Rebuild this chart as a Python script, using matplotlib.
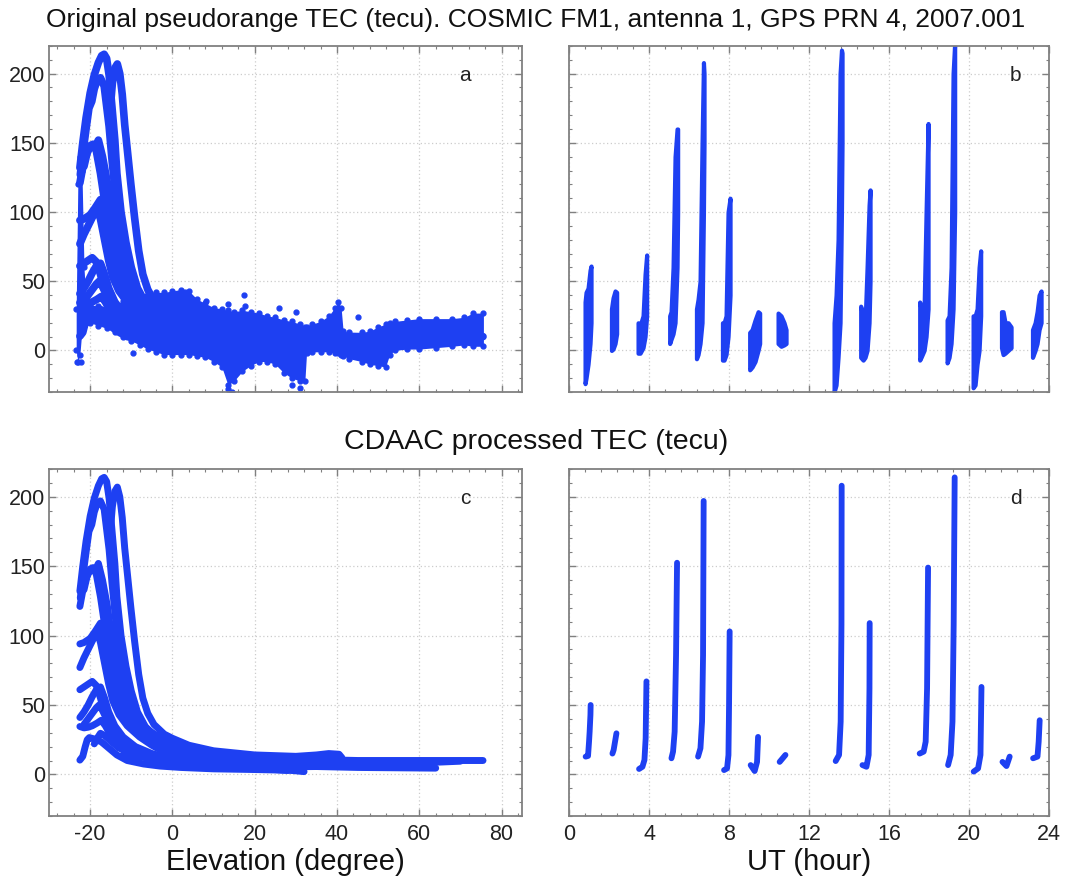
import matplotlib
matplotlib.use('Agg')
import matplotlib.pyplot as plt
from matplotlib.ticker import MultipleLocator

plt.rcParams['font.family'] = ['Liberation Sans', 'DejaVu Sans']
plt.rcParams['axes.unicode_minus'] = False

# ---------------- data ----------------
title_top = "Original pseudorange TEC (tecu). COSMIC FM1, antenna 1, GPS PRN 4, 2007.001"
title_mid = "CDAAC processed TEC (tecu)"
panel_letters = ['a', 'b', 'c', 'd']
elev_ticks = [-20, 0, 20, 40, 60, 80]
ut_ticks = [0, 4, 8, 12, 16, 20, 24]
tec_ticks = [0, 50, 100, 150, 200]

# Processed TEC vs elevation, one list of (elevation, TEC) per occultation pass
proc_elev_arcs = [
    # P01 peak 50
    [(-21.5, 36), (-20.5, 40), (-19.5, 44), (-18.5, 48), (-17.8, 50), (-17, 46), (-16, 40), (-14.5, 32),
     (-12.5, 25), (-10, 19), (-6, 15), (-2, 12), (3, 9), (10, 7), (20, 5.5), (25, 5)],
    # P02 peak 30
    [(-19, 22), (-18.3, 26), (-17.5, 29.6), (-16.5, 28), (-15, 24), (-13, 19), (-10, 15), (-6, 12),
     (-2, 10), (3, 8), (10, 7), (15, 7)],
    # P03 peak 67
    [(-22.5, 61), (-21.5, 63), (-20.5, 65), (-19.5, 67), (-18.5, 64), (-17.5, 55), (-16.5, 44), (-15, 34),
     (-13, 26), (-10, 19), (-6, 14), (-2, 11), (3, 8), (10, 6), (20, 4), (30, 3)],
    # P04 peak 152
    [(-22.5, 121), (-21.5, 137), (-20.5, 145), (-19.6, 147.5), (-18.8, 147), (-18.0, 152), (-17.0, 140),
     (-15.8, 121), (-14.7, 97), (-13.5, 78), (-12.3, 62), (-11, 50), (-9, 40), (-6, 32), (-3, 26), (0, 22),
     (5, 17), (12, 13), (20, 11), (30, 9), (40, 8)],
    # P05 peak 197
    [(-22.4, 127), (-21.8, 142), (-21.0, 160), (-20.3, 175), (-19.6, 180), (-19.0, 189), (-18.2, 196),
     (-17.5, 197), (-16.6, 191), (-15.4, 162), (-14.7, 138), (-13.5, 102), (-12.4, 78), (-11.2, 60),
     (-9.8, 47), (-8, 38), (-5, 30), (-2, 25), (2, 20), (8, 16), (15, 13), (25, 11), (35, 9.5), (45, 8.5),
     (55, 8)],
    # P06 peak 103
    [(-22.5, 77), (-21.5, 84), (-20.5, 90), (-19.5, 96), (-18.3, 103), (-17.5, 95), (-16.5, 80), (-15.5, 65),
     (-14.5, 53), (-13, 43), (-11, 35), (-8, 27), (-5, 21), (-2, 16), (2, 12), (8, 8), (15, 6), (25, 4),
     (32, 2)],
    # P07 peak 27
    [(-22.5, 10.3), (-21.8, 13), (-21.2, 20), (-20.7, 25), (-20.2, 26.5), (-19, 25.5), (-17.3, 23.5),
     (-15.5, 19), (-13.5, 14), (-11, 10), (-7, 7.5), (-3, 6), (2, 5), (10, 4), (20, 3.5), (28, 3)],
    # P08 peak 14
    [(-12, 14), (-9, 13), (-6, 12), (-2, 11), (3, 9), (8, 8), (12, 7)],
    # P09 peak 207
    [(-15.2, 172), (-14.6, 193), (-14.0, 204), (-13.4, 207), (-12.8, 200), (-12.2, 185), (-11.6, 163),
     (-10.9, 143), (-10.1, 120), (-9.2, 96), (-8.2, 72), (-7.2, 55), (-6.0, 44), (-4.5, 36), (-2.0, 29),
     (0, 26), (4, 21), (10, 17), (20, 14), (30, 13), (35, 14), (38, 15), (40.5, 14.5), (41.2, 12)],
    # P10 peak 109
    [(-22.5, 94), (-21.5, 95), (-20.0, 98), (-18.8, 103), (-17.5, 109), (-16.6, 97), (-15.8, 80),
     (-14.8, 66), (-13.5, 54), (-12, 45), (-9.5, 36), (-6.5, 28), (-3, 21), (0, 17), (5, 12), (12, 9),
     (20, 7), (30, 6), (45, 5), (64, 4.5)],
    # P11 peak 149
    [(-21.5, 133), (-20.8, 142), (-20.0, 148), (-19.3, 149), (-18.5, 144), (-17.5, 128), (-16.5, 108),
     (-15.5, 88), (-14.5, 72), (-13, 57), (-11, 44), (-8, 33), (-5, 26), (-2, 21), (2, 17), (8, 13),
     (15, 10), (25, 8), (35, 7), (50, 7), (70, 9.5)],
    # P12 peak 214
    [(-22.5, 132), (-21.8, 150), (-21.0, 168), (-20.0, 186), (-19.0, 199), (-18.0, 208), (-17.2, 213),
     (-16.6, 214), (-16.0, 211), (-15.4, 199), (-14.7, 176), (-14.0, 152), (-13.5, 128), (-12.5, 100),
     (-11.3, 78), (-10.0, 60), (-8.5, 45), (-6.5, 34), (-4.0, 27), (0, 22), (5, 18), (10, 15), (20, 13),
     (30, 11), (45, 10), (60, 10), (75.5, 10)],
    # P13 peak 63
    [(-22.5, 41), (-21.5, 45), (-20.5, 50), (-19.5, 56), (-18.5, 61), (-17.5, 63), (-16.5, 55), (-15.5, 45),
     (-14, 35), (-12, 27), (-9, 20), (-5, 15), (0, 11), (6, 8), (15, 5), (25, 3.5), (28, 3)],
    # P14 peak 13
    [(-8, 13), (-4, 12), (0, 10), (4, 8), (8, 7)],
    # P15 peak 39
    [(-22.5, 34.5), (-21.5, 33.5), (-20.5, 34), (-19.5, 35), (-18.3, 37), (-17.3, 39), (-16.3, 35),
     (-15, 28), (-13.5, 22), (-11.5, 17), (-9, 14), (-5, 11), (0, 9), (6, 7), (15, 6), (30, 5.5), (45, 6)],
]

# Processed TEC vs UT, one list of (UT hour, TEC) per pass
proc_ut_arcs = [
    [(0.83, 12.8), (0.95, 13.3), (1.0, 23.6), (1.03, 30.8), (1.07, 42.9), (1.08, 50)],
    [(2.17, 15), (2.23, 17.6), (2.3, 23.6), (2.37, 29.6)],
    [(3.5, 3.9), (3.67, 5.5), (3.77, 10.4), (3.83, 26), (3.87, 67)],
    [(5.12, 11.6), (5.2, 16.4), (5.28, 30.8), (5.35, 86), (5.4, 152.5)],
    [(6.45, 12.8), (6.57, 18.8), (6.65, 38), (6.7, 86), (6.73, 197)],
    [(7.75, 3.1), (7.9, 4.3), (7.97, 13.9), (8.0, 50), (8.03, 103)],
    [(9.08, 6.7), (9.28, 2.4), (9.4, 9), (9.45, 27)],
    [(10.53, 9), (10.82, 14)],
    [(13.33, 9.6), (13.5, 14), (13.58, 38), (13.62, 108), (13.63, 208)],
    [(14.67, 6.7), (14.87, 5.5), (14.98, 14), (15.02, 62), (15.03, 109)],
    [(17.53, 15), (17.73, 16.4), (17.83, 23.6), (17.9, 62), (17.95, 149)],
    [(18.95, 6.7), (19.08, 14), (19.17, 38), (19.23, 108), (19.28, 214)],
    [(20.23, 2), (20.45, 4.3), (20.57, 14), (20.62, 63)],
    [(21.67, 9), (21.87, 6), (22.03, 12.8)],
    [(23.2, 11.6), (23.42, 12.8), (23.48, 23.6), (23.53, 39)],
]

# Raw pseudorange TEC vs UT: per pass (UT hour, lowest TEC, highest TEC)
raw_ut_bands = [
    [(0.80, -24, 35), (0.85, -20, 42), (0.95, -10, 45), (1.05, 5, 58), (1.10, 20, 61)],
    [(2.12, 0, 30), (2.2, 1, 38), (2.3, 5, 43), (2.38, 12, 42)],
    [(3.45, -2, 20), (3.55, -2, 18), (3.7, 2, 25), (3.8, 10, 55), (3.88, 25, 69)],
    [(5.03, 5, 25), (5.1, 8, 28), (5.2, 12, 60), (5.3, 20, 140), (5.4, 60, 160), (5.43, 100, 160)],
    [(6.37, -6, 30), (6.45, -3, 37), (6.55, 5, 50), (6.65, 20, 150), (6.72, 100, 208), (6.75, 150, 200)],
    [(7.67, -7, 20), (7.75, -7, 20), (7.85, -3, 25), (7.95, 10, 100), (8.05, 40, 110)],
    [(9.03, -14, 13), (9.15, -12, 15), (9.3, -8, 22), (9.45, 0, 28), (9.53, 5, 27)],
    [(10.45, 5, 27), (10.6, 3, 25), (10.75, 4, 20), (10.85, 5, 15)],
    [(13.25, -30, 20), (13.35, -25, 40), (13.45, -5, 80), (13.55, 20, 200), (13.62, 100, 217), (13.65, 150, 215)],
    [(14.58, -5, 32), (14.7, -7, 25), (14.8, -5, 20), (14.9, 0, 60), (15.0, 20, 105), (15.05, 50, 116)],
    [(17.53, -7, 35), (17.6, -5, 30), (17.75, 0, 30), (17.85, 10, 100), (17.95, 30, 164)],
    [(18.9, -9, 22), (19.0, -5, 25), (19.1, 5, 60), (19.2, 30, 200), (19.28, 100, 222)],
    [(20.2, -27, 25), (20.3, -25, 25), (20.4, -10, 30), (20.5, 0, 60), (20.58, 25, 72)],
    [(21.62, 2, 28), (21.7, -3, 28), (21.8, -2, 20), (21.95, 0, 20), (22.1, 2, 17)],
    [(23.17, -5, 15), (23.3, 0, 20), (23.4, 5, 28), (23.5, 15, 40), (23.6, 20, 43)],
]

# Raw pseudorange TEC vs elevation: envelope of the dense point cloud
raw_cloud_elev = [-23.4, -23.0, -22.5, -22.0, -21.5, -21.0, -20.0, -18.0, -16.0, -14.0, -12.0, -10.0, -8.0,
                  -6.0, -4.0, -2.0, 0, 2, 4, 6, 8, 10, 12, 13.5, 15, 17, 19, 21, 23, 25, 27, 29, 31, 32.2,
                  32.6, 34, 36, 38, 39.5, 40.3, 41, 41.5, 43, 46, 48, 50, 51.8, 52.8, 54, 57, 60, 64, 68,
                  71, 73, 75.6]
raw_cloud_low = [0, -8, -3, 15, 18, 20, 20, 18, 16, 13, 10, 7, 4,
                 1, -1, -3, -3, -3, -3, -4, -5, -8, -12, -25, -22, -15, -11, -8, -8, -10, -16, -20, -22, -22,
                 -2, -1, -1, -1, -2, -2, -3, -4, -6, -8, -10, -11, -12, -3, 0, 1, 1, 2, 3,
                 4, 3, 3]
raw_cloud_high = [30, 120, 140, 130, 60, 34, 33, 32, 31, 33, 36, 38, 40,
                  42, 42, 42, 43, 44, 43, 37, 34, 31, 30, 29, 28, 29, 28, 27, 25, 24, 22, 21, 19, 17,
                  17, 19, 21, 25, 31, 35, 31, 14, 13, 13, 14, 17, 19, 20, 21, 22, 23, 23, 23,
                  24, 27, 27]
raw_outliers_elev = [-23.2, -22.3, -9.5, 8.1, 13.5, 17.3, 17.6, 26.0, 30.0, 13.5, 14.5, 29.0, 31.0, 3.0, 45.0]
raw_outliers_tec = [-8, -8, -2, 35.6, 33.7, 40, 32, 31, 28, -28, -30, -25, -27, 42, 24]

# ---------------- drawing ----------------
BLUE = '#1e40f2'
FRAME = '#808080'

fig = plt.figure(figsize=(10.92, 8.84), dpi=100)
ax_a = fig.add_axes([0.0449, 0.5566, 0.4332, 0.3914])
ax_b = fig.add_axes([0.5211, 0.5566, 0.4396, 0.3914])
ax_c = fig.add_axes([0.0449, 0.0769, 0.4332, 0.3925])
ax_d = fig.add_axes([0.5211, 0.0769, 0.4396, 0.3925])


def style(ax, kind, show_y, show_x):
    if kind == 'elev':
        ax.set_xlim(-30, 85)
        ax.set_xticks(elev_ticks)
        ax.xaxis.set_minor_locator(MultipleLocator(4))
    else:
        ax.set_xlim(0, 24)
        ax.set_xticks(ut_ticks)
        ax.xaxis.set_minor_locator(MultipleLocator(0.8))
    ax.set_ylim(-30, 220)
    ax.set_yticks(tec_ticks)
    ax.yaxis.set_minor_locator(MultipleLocator(10))
    ax.tick_params(which='both', direction='in', top=True, right=True, colors=FRAME,
                   labelcolor='#222222', labelsize=15.5)
    ax.tick_params(which='major', length=5, width=1)
    ax.tick_params(which='minor', length=2.5, width=0.8)
    ax.tick_params(axis='x', pad=6)
    ax.tick_params(axis='y', pad=3)
    if not show_y:
        ax.tick_params(labelleft=False)
    if not show_x:
        ax.tick_params(labelbottom=False)
    for s in ax.spines.values():
        s.set_color(FRAME)
        s.set_linewidth(1.3)
    ax.grid(True, which='major', color='#cccccc', linestyle=(0, (1, 2)), linewidth=0.9)
    ax.set_axisbelow(True)


style(ax_a, 'elev', True, False)
style(ax_b, 'ut', False, False)
style(ax_c, 'elev', True, True)
style(ax_d, 'ut', False, True)

# panel a: raw cloud + raw arcs
ax_a.fill_between(raw_cloud_elev, raw_cloud_low, raw_cloud_high, color=BLUE, lw=0)
ax_a.plot(raw_cloud_elev, raw_cloud_low, 'o', color=BLUE, ms=3.5)
ax_a.plot(raw_cloud_elev, raw_cloud_high, 'o', color=BLUE, ms=3.5)
for arc in proc_elev_arcs:
    xs = [p[0] for p in arc]
    ys = [p[1] for p in arc]
    ax_a.plot(xs, ys, color=BLUE, lw=5.5, solid_capstyle='round', solid_joinstyle='round')
ax_a.plot(raw_outliers_elev, raw_outliers_tec, 'o', color=BLUE, ms=3.5, clip_on=True)

# panel b: raw bands vs UT
for band in raw_ut_bands:
    t = [p[0] for p in band]
    lo = [p[1] for p in band]
    hi = [p[2] for p in band]
    ax_b.fill_between(t, lo, hi, color=BLUE, edgecolor=BLUE, lw=3, joinstyle='round')

# panel c: processed arcs vs elevation
for arc in proc_elev_arcs:
    xs = [p[0] for p in arc]
    ys = [p[1] for p in arc]
    ax_c.plot(xs, ys, color=BLUE, lw=5, solid_capstyle='round', solid_joinstyle='round')

# panel d: processed arcs vs UT
for arc in proc_ut_arcs:
    xs = [p[0] for p in arc]
    ys = [p[1] for p in arc]
    ax_d.plot(xs, ys, color=BLUE, lw=4.2, solid_capstyle='round', solid_joinstyle='round')

for ax, letter, xf in zip([ax_a, ax_b, ax_c, ax_d], panel_letters, [0.88, 0.93, 0.88, 0.93]):
    ax.text(xf, 0.916, letter, transform=ax.transAxes, ha='center', va='center', fontsize=15,
            color='#222222')

ax_c.set_xlabel('Elevation (degree)', fontsize=21, color='#111111', labelpad=2)
ax_d.set_xlabel('UT (hour)', fontsize=21, color='#111111', labelpad=2)

fig.text(0.49, 1 - 20 / 884, title_top, ha='center', va='center', fontsize=19, color='#111111')
fig.text(0.491, 1 - 442 / 884, title_mid, ha='center', va='center', fontsize=20.5, color='#111111')

fig.savefig('out.png', dpi=100)
